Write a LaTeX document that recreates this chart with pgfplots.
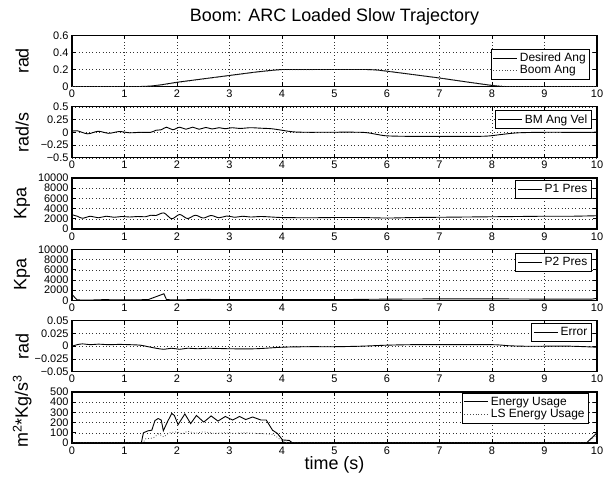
\documentclass[border=0pt]{standalone}
\usepackage{fontspec}
\setmainfont{Liberation Sans}
\usepackage{pgfplots}
\pgfplotsset{compat=1.18}
\pgfplotsset{
  mstyle/.style={
    scale only axis, width=525bp, height=51bp,
    xmin=0, xmax=10, xtick={0,1,...,10},
    tick align=inside, major tick length=4bp,
    xmajorgrids, ymajorgrids,
    grid style={black!80, line width=0.5bp, dash pattern=on 0.6bp off 2.8bp},
    axis line style={line width=1.1bp},
    every tick/.style={black, line width=0.6bp},
    tick label style={font=\fontsize{11}{12}\selectfont},
    /pgf/number format/assume math mode=true,
    ylabel style={font=\fontsize{18}{20}\selectfont, at={(axis description cs:-0.095,0.5)}, anchor=center},
    legend style={font=\fontsize{12}{13}\selectfont, draw=black, line width=1bp, anchor=north east, inner sep=2bp, row sep=-1.5bp, cells={anchor=west}},
    legend image code/.code={\draw[##1, line width=0.9bp] (0bp,0bp) -- (24bp,0bp);},
    anchor=south west, clip=true, scaled y ticks=false,
  },
  pl/.style={black, line width=0.9bp},
  pd/.style={black!70, line width=0.8bp, dash pattern=on 0.8bp off 2bp},
}
\begin{document}
\begin{tikzpicture}
\useasboundingbox (0,0) rectangle (604bp,480bp);
\node[font=\fontsize{18}{20}\selectfont] at (334.5bp,463bp) {Boom: ARC Loaded Slow Trajectory};

% Plot 1
\begin{axis}[mstyle, at={(72bp,393.5bp)}, ymin=0, ymax=0.6, ytick={0,0.2,0.4,0.6}, yticklabels={0,0.2,0.4,0.6}, ylabel={rad},
  legend style={at={(0.987,0.745)}}]
\addplot[pl] coordinates {(0,0)(1.3,0)(1.5,0.005)(1.7,0.02)(2,0.05)(2.5,0.09)(3,0.13)(3.5,0.17)(3.8,0.19)(4,0.2)(5.6,0.2)(5.8,0.195)(6,0.18)(6.5,0.14)(7,0.1)(7.5,0.055)(8,0.012)(8.2,0)(10,0)};
\addlegendentry{Desired Ang}
\addplot[pd] coordinates {(0,0)(1.4,0)(1.6,0.008)(2,0.045)(2.5,0.088)(3,0.128)(3.5,0.168)(4,0.198)(5.6,0.2)(6,0.182)(7,0.1)(8,0.014)(8.3,0)(10,0)};
\addlegendentry{Boom Ang}
\end{axis}

% Plot 2
\begin{axis}[mstyle, at={(72bp,322.2bp)}, ymin=-0.5, ymax=0.5, ytick={-0.5,-0.25,0,0.25,0.5}, yticklabels={−0.5,−0.25,0,0.25,0.5}, ylabel={rad/s},
  legend style={at={(0.99,0.94)}}]
\addplot[pl, smooth, tension=0.5] coordinates {(0,0.02)(0.1,0.03)(0.3,-0.03)(0.5,0.02)(0.7,-0.02)(0.9,0.015)(1.1,-0.01)(1.3,0.0)(1.5,0.0)(1.6,0.04)(1.7,0.05)(1.8,0.1)(1.92,0.05)(2.05,0.1)(2.17,0.06)(2.3,0.1)(2.42,0.06)(2.55,0.095)(2.67,0.065)(2.8,0.09)(2.92,0.07)(3.05,0.09)(3.2,0.075)(3.4,0.09)(3.6,0.08)(3.8,0.07)(4,0.04)(4.2,0.01)(4.5,0)(5.5,0)(5.8,-0.04)(6,-0.07)(6.5,-0.08)(7.5,-0.08)(7.9,-0.075)(8.2,-0.04)(8.5,-0.01)(9,0)(9.9,0)(10,0.02)};
\addlegendentry{BM Ang Vel}
\end{axis}

% Plot 3
\begin{axis}[mstyle, at={(72bp,251bp)}, ymin=0, ymax=10000, ytick={0,2000,4000,6000,8000,10000}, yticklabels={0,2000,4000,6000,8000,10000}, ylabel={Kpa},
  legend style={at={(0.99,0.96)}}]
\addplot[pl, smooth, tension=0.5] coordinates {(0,2800)(0.1,2500)(0.2,2100)(0.35,2500)(0.5,2200)(0.65,2500)(0.8,2300)(0.95,2450)(1.1,2350)(1.25,2450)(1.4,2400)(1.5,2700)(1.6,2650)(1.75,3150)(1.9,2000)(2.05,2850)(2.2,2050)(2.35,2700)(2.5,2150)(2.65,2650)(2.8,2200)(2.95,2550)(3.1,2300)(3.25,2500)(3.4,2350)(3.6,2450)(3.8,2350)(4,2250)(4.5,2200)(5,2250)(5.5,2250)(6,2150)(6.5,2250)(7,2300)(7.5,2350)(8,2400)(8.5,2450)(9,2500)(9.5,2500)(10,2600)};
\addlegendentry{P1 Pres}
\end{axis}

% Plot 4
\begin{axis}[mstyle, at={(72bp,179.6bp)}, ymin=0, ymax=10000, ytick={0,2000,4000,6000,8000,10000}, yticklabels={0,2000,4000,6000,8000,10000}, ylabel={Kpa},
  legend style={at={(0.99,0.93)}}]
\addplot[pl] coordinates {(0,1200)(0.05,600)(0.1,100)(0.3,50)(0.6,150)(1,100)(1.45,150)(1.75,1300)(1.8,150)(2,100)(2.5,200)(3,150)(4,150)(5,150)(6,250)(7,300)(8,300)(9,250)(9.9,250)(10,400)};
\addlegendentry{P2 Pres}
\end{axis}

% Plot 5
\begin{axis}[mstyle, at={(72bp,108.3bp)}, ymin=-0.05, ymax=0.05, ytick={-0.05,-0.025,0,0.025,0.05}, yticklabels={−0.05,−0.025,0,0.025,0.05}, ylabel={rad},
  legend style={at={(0.99,0.955)}}]
\addplot[pl, smooth, tension=0.5] coordinates {(0,0)(0.1,0.003)(0.2,0.0045)(0.35,0.003)(0.5,0.004)(0.7,0.003)(0.9,0.0035)(1.1,0.003)(1.3,0.002)(1.45,-0.001)(1.6,-0.004)(1.75,-0.006)(1.9,-0.004)(2.05,-0.006)(2.2,-0.004)(2.4,-0.005)(2.6,-0.004)(3,-0.005)(3.5,-0.005)(4,-0.002)(4.5,-0.001)(5,-0.001)(5.5,0)(6,0.002)(6.5,0.003)(7,0.003)(8,0.003)(8.3,0.001)(8.6,0)(9,0)(9.5,0)(10,-0.002)};
\addlegendentry{Error}
\end{axis}

% Plot 6
\begin{axis}[mstyle, at={(72bp,37bp)}, ymin=0, ymax=500, ytick={0,100,200,300,400,500}, yticklabels={0,100,200,300,400,500}, ylabel={m\textsuperscript{2}*Kg/s\textsuperscript{3}},
  ylabel style={at={(axis description cs:-0.095,0.62)}},
  xlabel={time (s)}, xlabel style={font=\fontsize{18}{20}\selectfont, at={(axis description cs:0.5,0)}, anchor=center, yshift=-22bp},
  legend style={at={(0.985,0.99)}}]
\addplot[pl] coordinates {(0,0)(1.32,0)(1.36,100)(1.45,120)(1.52,125)(1.58,220)(1.64,240)(1.7,225)(1.74,120)(1.82,210)(1.9,290)(1.95,270)(2.02,180)(2.15,285)(2.26,190)(2.37,270)(2.51,205)(2.65,265)(2.78,215)(2.92,260)(3.06,225)(3.19,260)(3.31,230)(3.44,255)(3.6,225)(3.7,225)(3.82,125)(3.91,95)(4.01,30)(4.14,25)(4.2,0)(9.8,0)(10,100)};
\addlegendentry{Energy Usage}
\addplot[pd] coordinates {(0,0)(1.35,0)(1.4,40)(1.55,50)(1.65,90)(1.75,60)(1.85,100)(2,110)(2.1,90)(2.2,115)(2.35,95)(2.5,110)(2.7,95)(2.9,100)(3.1,95)(3.3,100)(3.5,95)(3.7,90)(3.85,80)(3.95,40)(4.05,10)(4.15,0)(9.8,0)(10,80)};
\addlegendentry{LS Energy Usage}
\end{axis}
\end{tikzpicture}
\end{document}
